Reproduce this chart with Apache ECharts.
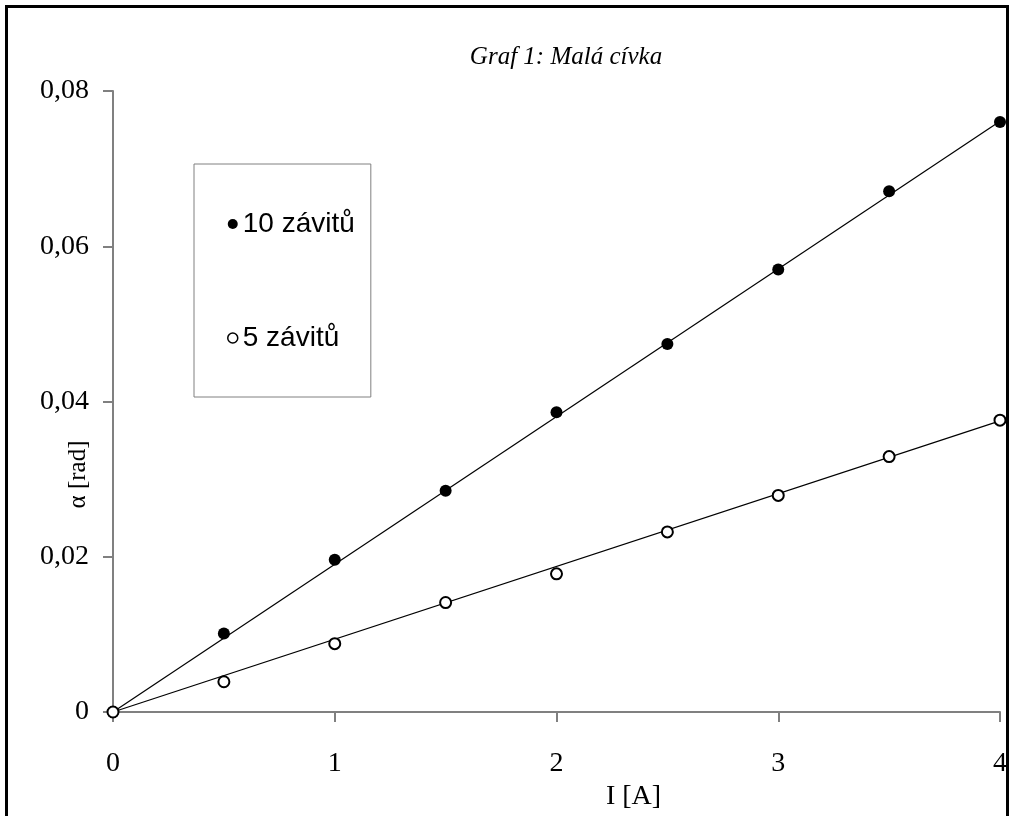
<!DOCTYPE html>
<html>
<head>
<meta charset="utf-8">
<script src="https://cdn.jsdelivr.net/npm/echarts@6/dist/echarts.min.js"></script>
<style>html,body{margin:0;padding:0;background:#fff;}#c{width:1010px;height:816px;}</style>
</head>
<body>
<div id="c"></div>
<script>
const current = [0, 0.5, 1, 1.5, 2, 2.5, 3, 3.5, 4];
const alpha10 = [0, 0.0101, 0.0196, 0.0285, 0.0386, 0.0474, 0.0570, 0.0671, 0.0760];
const alpha5 = [0, 0.0039, 0.0088, 0.0141, 0.0178, 0.0232, 0.0279, 0.0329, 0.0376];
const fitX = [0, 4];
const fit10 = [0, 0.0761];
const fit5 = [0, 0.0375];
const seriesNames = ['10 závitů', '5 závitů'];
const yTicks = ['0', '0,02', '0,04', '0,06', '0,08'];

const serif = 'Liberation Serif';
const sans = 'Liberation Sans';
const pairs = (xs, ys) => xs.map((x, i) => [x, ys[i]]);

const chart = echarts.init(document.getElementById('c'));
chart.setOption({
  animation: false,
  backgroundColor: '#fff',
  title: {
    text: 'Graf 1: Malá cívka',
    left: 561, top: 40, textAlign: 'center',
    textStyle: { fontFamily: serif, fontStyle: 'italic', fontWeight: 'normal', fontSize: 25, color: '#000' }
  },
  graphic: [{
    type: 'rect', silent: true, z: 100,
    shape: { x: 6.5, y: 6.5, width: 1001, height: 900 },
    style: { fill: 'none', stroke: '#000', lineWidth: 3 }
  }],
  legend: {
    orient: 'vertical', left: 194, top: 164,
    padding: [46, 16, 45, 33],
    itemGap: 86, itemWidth: 10, itemHeight: 10,
    borderColor: '#808080', borderWidth: 1,
    data: [
      { name: seriesNames[0], icon: 'circle', itemStyle: { color: '#000', borderWidth: 0 } },
      { name: seriesNames[1], icon: 'circle', itemStyle: { color: '#fff', borderColor: '#000', borderWidth: 1.5 } }
    ],
    textStyle: { fontFamily: sans, fontSize: 28, color: '#000', lineHeight: 28 }
  },
  grid: { left: 113, right: 10, top: 91, bottom: 100 },
  xAxis: {
    type: 'value', min: 0, max: 4, interval: 1,
    name: 'I [A]', nameLocation: 'middle', nameGap: 71, nameMoveOverlap: false,
    nameTextStyle: { fontFamily: serif, fontSize: 28, color: '#000', padding: [0, 0, 0, 154] },
    axisLine: { lineStyle: { color: '#808080', width: 2 } },
    axisTick: { show: true, length: 10, lineStyle: { color: '#808080', width: 2 } },
    axisLabel: { margin: 38, fontFamily: serif, fontSize: 28, color: '#000' },
    splitLine: { show: false }
  },
  yAxis: {
    type: 'value', min: 0, max: 0.08, interval: 0.02,
    name: 'α [rad]', nameLocation: 'middle', nameGap: 22, nameRotate: 90, nameMoveOverlap: false,
    nameTextStyle: { fontFamily: serif, fontSize: 25, color: '#000', padding: [0, 146, 0, 0] },
    axisLine: { show: true, lineStyle: { color: '#808080', width: 2 } },
    axisTick: { show: true, length: 10, lineStyle: { color: '#808080', width: 2 } },
    axisLabel: { margin: 24, fontFamily: serif, fontSize: 28, color: '#000',
      formatter: (v) => yTicks[Math.round(v / 0.02)] },
    splitLine: { show: false }
  },
  series: [
    { type: 'line', name: 'fit10', data: pairs(fitX, fit10), symbol: 'none', z: 1,
      lineStyle: { color: '#000', width: 1.2 }, silent: true },
    { type: 'line', name: 'fit5', data: pairs(fitX, fit5), symbol: 'none', z: 1,
      lineStyle: { color: '#000', width: 1.2 }, silent: true },
    { type: 'scatter', name: seriesNames[0], data: pairs(current, alpha10), symbol: 'circle', symbolSize: 12, z: 3,
      itemStyle: { color: '#000', opacity: 1 } },
    { type: 'scatter', name: seriesNames[1], data: pairs(current, alpha5), symbol: 'circle', symbolSize: 11, z: 4,
      itemStyle: { color: '#fff', borderColor: '#000', borderWidth: 2, opacity: 1 } }
  ]
});
</script>
</body>
</html>
